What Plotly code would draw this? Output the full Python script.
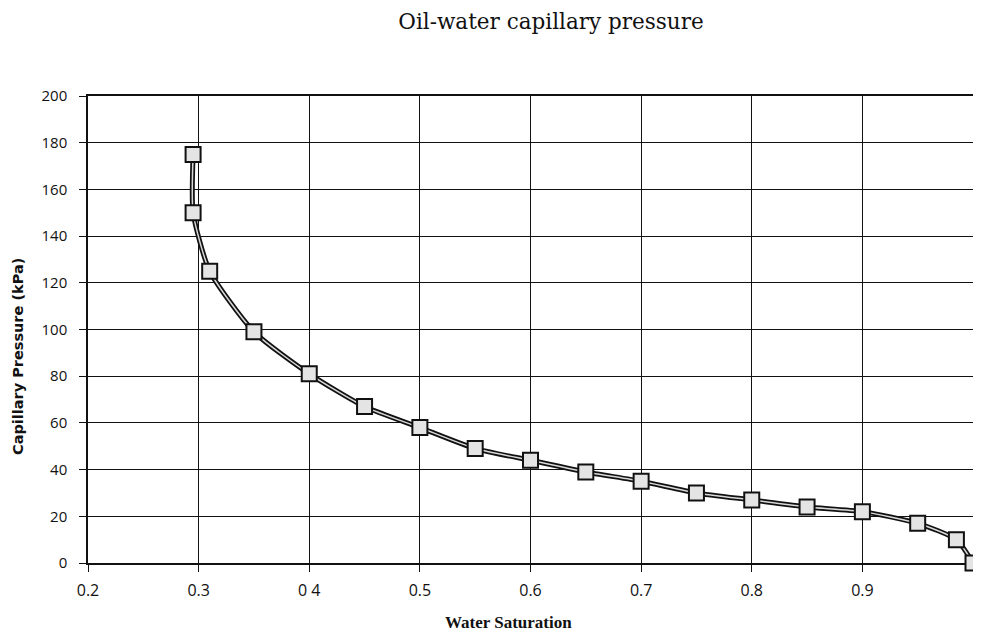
import plotly.graph_objects as go

saturation = [0.295, 0.295, 0.31, 0.35, 0.40, 0.45, 0.50, 0.55, 0.60, 0.65, 0.70, 0.75, 0.80, 0.85, 0.90, 0.95, 0.985, 1.0]
pressure = [175, 150, 125, 99, 81, 67, 58, 49, 44, 39, 35, 30, 27, 24, 22, 17, 10, 0]

x_ticks = [0.2, 0.3, 0.4, 0.5, 0.6, 0.7, 0.8, 0.9]
x_tick_text = ["0.2", "0.3", "0 4", "0.5", "0.6", "0.7", "0.8", "0.9"]
y_ticks = [0, 20, 40, 60, 80, 100, 120, 140, 160, 180, 200]

serif = "Liberation Serif, Times New Roman, serif"
sans = "Open Sans, DejaVu Sans, sans-serif"

# page body adds an 8px offset; figure is sized to fit the window
W, H = 973, 627
L, R, T, B = 80, 965, 88, 555  # plot area in figure pixels
pw, ph = R - L, B - T

fig = go.Figure()
fig.add_trace(go.Scatter(
    x=saturation, y=pressure, mode="lines",
    line=dict(color="#111111", width=5, shape="spline", smoothing=0.6),
    hoverinfo="skip", showlegend=False, cliponaxis=False,
))
fig.add_trace(go.Scatter(
    x=saturation, y=pressure, mode="lines+markers",
    line=dict(color="#d8d8d8", width=1.5, shape="spline", smoothing=0.6),
    marker=dict(symbol="square", size=15, color="#e4e4e4",
                line=dict(color="#111111", width=2)),
    cliponaxis=False, showlegend=False,
))

fig.update_layout(
    width=W, height=H,
    paper_bgcolor="white", plot_bgcolor="white",
    margin=dict(l=L, r=W - R, t=T, b=H - B),
    title=dict(text="Oil-water capillary pressure", x=543 / W, xref="container",
               xanchor="center", y=1 - 13 / H, yanchor="middle",
               font=dict(family="DejaVu Serif, serif", size=21.5, color="#111111")),
    font=dict(family=sans, size=15, color="#111111"),
    xaxis=dict(
        range=[0.2, 1.0], tickvals=x_ticks, ticktext=x_tick_text,
        showgrid=True, gridcolor="#111111", gridwidth=1.2,
        showline=True, linecolor="#111111", linewidth=1.5, mirror=True,
        ticks="outside", ticklen=7, tickcolor="#111111",
        ticklabelstandoff=5,
        tickfont=dict(family=sans, size=16),
        zeroline=False, automargin=False, layer="below traces",
    ),
    yaxis=dict(
        range=[0, 200], tickvals=y_ticks,
        showgrid=True, gridcolor="#111111", gridwidth=1.2,
        showline=True, linecolor="#111111", linewidth=1.5, mirror=True,
        ticks="outside", ticklen=7, tickcolor="#111111",
        ticklabelstandoff=9,
        tickfont=dict(family=sans, size=15),
        zeroline=False, automargin=False, layer="below traces",
    ),
    annotations=[
        dict(text="<b>Water Saturation</b>", xref="paper", yref="paper",
             x=(500 - L) / pw, y=-(614 - B) / ph,
             xanchor="center", yanchor="middle", showarrow=False,
             font=dict(family=serif, size=17, color="#111111")),
        dict(text="<b>Capillary Pressure (kPa)</b>", xref="paper", yref="paper",
             x=-(L - 10) / pw, y=(B - 349) / ph,
             xanchor="center", yanchor="middle", showarrow=False, textangle=-90,
             font=dict(family="DejaVu Sans, sans-serif", size=14.5, color="#111111")),
    ],
)

fig.write_html("out.html")
